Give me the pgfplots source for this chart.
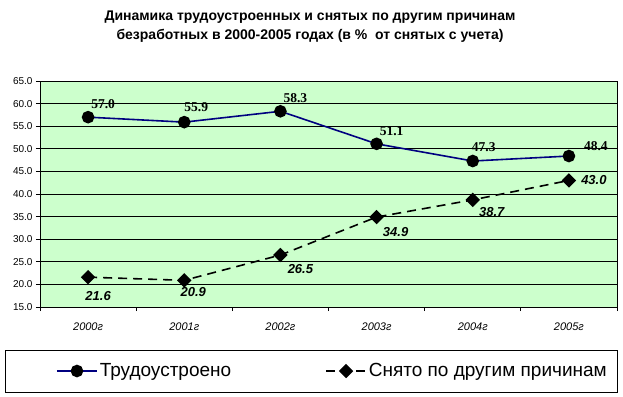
\documentclass[border=0pt]{standalone}
\usepackage{fontspec}
\setmainfont{Liberation Sans}
\newfontfamily\serifnum{Liberation Serif}
\usepackage{pgfplots}
\pgfplotsset{compat=1.18}
\definecolor{plotbg}{HTML}{CCFFCC}
\definecolor{navyline}{HTML}{000080}
\pgfplotstableread{
x y lab dx dy
0 57.0 57.0 15 13
1 55.9 55.9 12 15
2 58.3 58.3 15 13
3 51.1 51.1 15 13
4 47.3 47.3 11 14
5 48.4 48.4 27 10
}\seriesA
\pgfplotstableread{
x y lab dx dy
0 21.6 21.6 10 -19
1 20.9 20.9 9 -12
2 26.5 26.5 20 -14
3 34.9 34.9 19 -15
4 38.7 38.7 19 -12
5 43.0 43.0 25 0
}\seriesB
\begin{document}
\begin{tikzpicture}
\path[use as bounding box] (0pt,0pt) rectangle (623pt,-396pt);
\node[font=\bfseries\fontsize{14}{19}\selectfont, align=center] at (310pt,-27pt) {Динамика трудоустроенных и снятых по другим причинам\\безработных в 2000-2005 годах (в \%\ \ от снятых с учета)};
\begin{axis}[
 at={(40pt,-307pt)}, anchor=south west,
 scale only axis, width=577pt, height=226pt,
 xmin=-0.5, xmax=5.5, ymin=15, ymax=65,
 axis background/.style={fill=plotbg},
 axis line style={black, line width=0.7pt},
 ytick={15,20,...,65},
 xtick={-0.5,0.5,1.5,2.5,3.5,4.5,5.5},
 x tick label as interval,
 xticklabels={2000г,2001г,2002г,2003г,2004г,2005г},
 xtick pos=lower, ytick pos=left,
 tick align=outside, major tick length=4pt,
 tick style={black, line width=0.7pt},
 ymajorgrids, major grid style={black, line width=0.7pt},
 y tick label style={font=\fontsize{10}{10}\selectfont, /pgf/number format/.cd, fixed, fixed zerofill, precision=1, assume math mode=true},
 x tick label style={font=\itshape\fontsize{11}{10}\selectfont, yshift=-8pt},
 legend columns=2,
 legend style={at={(axis description cs:0.0277,-0.2832)}, anchor=west, draw=none, fill=none,
   inner xsep=0pt, inner ysep=0pt,
   font=\fontsize{19}{19}\selectfont,
   nodes={inner sep=2pt},
   /tikz/column 2/.style={column sep=92pt}},
 legend image code/.code={\draw[mark repeat=2,mark phase=2,#1] plot coordinates {(0pt,0pt) (20pt,0pt) (40pt,0pt)};},
]
\addplot[navyline, line width=1.6pt, mark=*, mark size=5.5pt, mark options={fill=black, draw=black, solid},
  nodes near coords, point meta=explicit symbolic,
  visualization depends on={\thisrow{dx}\as\dx},
  visualization depends on={\thisrow{dy}\as\dy},
  every node near coord/.append style={anchor=center, xshift=\dx pt, yshift=\dy pt, text=black, font=\serifnum\bfseries\fontsize{13.5}{12}\selectfont}]
  table[x=x, y=y, meta=lab] {\seriesA};
\addlegendentry{Трудоустроено}
\addplot[black, line width=1.6pt, dash pattern=on 9pt off 6pt, mark=square*, mark size=4.3pt, mark options={fill=black, draw=black, solid, rotate=45},
  nodes near coords, point meta=explicit symbolic,
  visualization depends on={\thisrow{dx}\as\dx},
  visualization depends on={\thisrow{dy}\as\dy},
  every node near coord/.append style={anchor=center, xshift=\dx pt, yshift=\dy pt, text=black, font=\bfseries\itshape\fontsize{13}{12}\selectfont}]
  table[x=x, y=y, meta=lab] {\seriesB};
\addlegendentry{Снято по другим причинам}
\end{axis}
\draw[line width=0.8pt] (5pt,-350pt) rectangle (617pt,-392pt);
\end{tikzpicture}
\end{document}
